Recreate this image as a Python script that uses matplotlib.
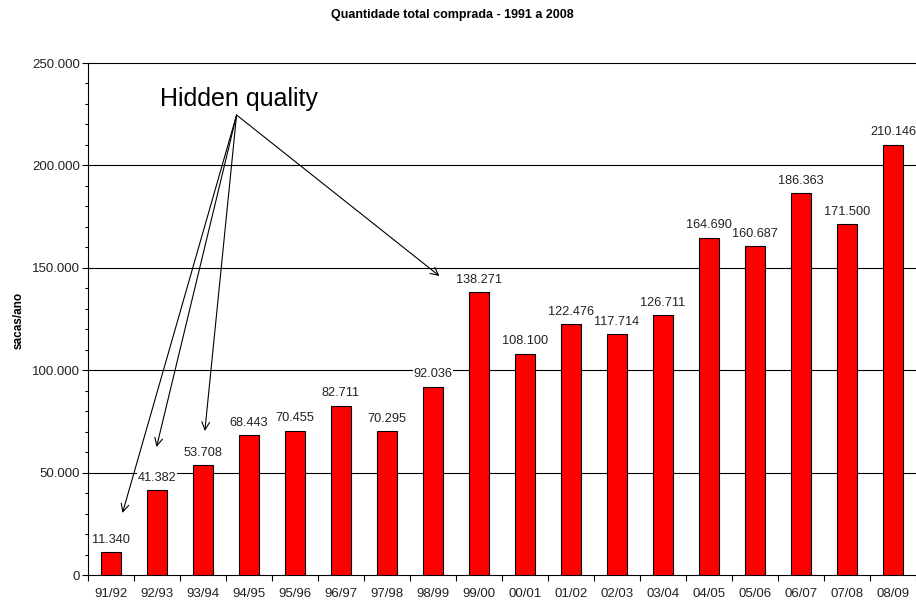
import matplotlib
matplotlib.use("Agg")
import matplotlib.pyplot as plt
from matplotlib.ticker import FuncFormatter, MultipleLocator

# ---- data ----
safras = ["91/92", "92/93", "93/94", "94/95", "95/96", "96/97", "97/98", "98/99",
          "99/00", "00/01", "01/02", "02/03", "03/04", "04/05", "05/06", "06/07",
          "07/08", "08/09"]
sacas = [11340, 41382, 53708, 68443, 70455, 82711, 70295, 92036, 138271,
         108100, 122476, 117714, 126711, 164690, 160687, 186363, 171500, 210146]
rotulos = ["11.340", "41.382", "53.708", "68.443", "70.455", "82.711", "70.295",
           "92.036", "138.271", "108.100", "122.476", "117.714", "126.711",
           "164.690", "160.687", "186.363", "171.500", "210.146"]

# "Hidden quality" arrows: apex and targets (x in category units, y in sacas)
seta_origem = (2.73, 224600)
seta_alvos = [(0.25, 30300), (0.99, 62500), (2.04, 70300), (7.14, 146000)]

plt.rcParams["font.family"] = ["Liberation Sans", "DejaVu Sans"]

fig = plt.figure(figsize=(9.16, 6.03), dpi=100)
ax = fig.add_axes([88 / 916, 1 - 575 / 603, 1 - 88 / 916, (575 - 63) / 603])

x = list(range(len(safras)))
ax.bar(x, sacas, width=0.42, color="#ff0000", edgecolor="black",
       linewidth=0.8, zorder=3)

for xi, v, s in zip(x, sacas, rotulos):
    ax.annotate(s, (xi, v), xytext=(0, 4.5), textcoords="offset points",
                ha="center", va="bottom", fontsize=9.2, color="#222222",
                zorder=4,
                bbox=dict(boxstyle="square,pad=0.05", fc="white", ec="none"))

# gridlines
for g in (50000, 100000, 150000, 200000):
    ax.axhline(g, color="black", lw=0.8, zorder=1)

ax.set_xlim(-0.456, 17.5)
ax.set_ylim(0, 250000)

ax.yaxis.set_major_locator(MultipleLocator(50000))
ax.yaxis.set_minor_locator(MultipleLocator(10000))
ax.yaxis.set_major_formatter(
    FuncFormatter(lambda v, p: f"{v:,.0f}".replace(",", ".")))
ax.tick_params(axis="y", which="major", length=4, width=0.8, labelsize=9.5,
               labelcolor="#222222", pad=1.5)
ax.tick_params(axis="y", which="minor", length=2.5, width=0.8)

ax.set_xticks(x)
ax.set_xticklabels(safras)
ax.set_xticks([i + 0.5 for i in range(-1, len(safras))], minor=True)
ax.tick_params(axis="x", which="major", length=0, labelsize=9.5,
               labelcolor="#222222", pad=9.5)
ax.tick_params(axis="x", which="minor", length=4, width=0.8)

for side in ("left", "bottom", "top"):
    ax.spines[side].set_linewidth(0.8)
    ax.spines[side].set_color("black")
ax.spines["right"].set_visible(False)

# annotation
ax.text(seta_origem[0] + 0.06, 226500, "Hidden quality", fontsize=18,
        ha="center", va="bottom", zorder=5)
for alvo in seta_alvos:
    ax.annotate("", xy=alvo, xytext=seta_origem,
                arrowprops=dict(arrowstyle="->", lw=0.8, color="black",
                                mutation_scale=14, shrinkA=0, shrinkB=0),
                zorder=5)

fig.text(0.494, 0.975, "Quantidade total comprada - 1991 a 2008",
         ha="center", va="center", fontsize=9, fontweight="bold")
fig.text(19 / 916, 1 - 320 / 603, "sacas/ano", rotation=90, ha="center",
         va="center", fontsize=8.5, fontweight="bold")

fig.savefig("out.png", dpi=100)
